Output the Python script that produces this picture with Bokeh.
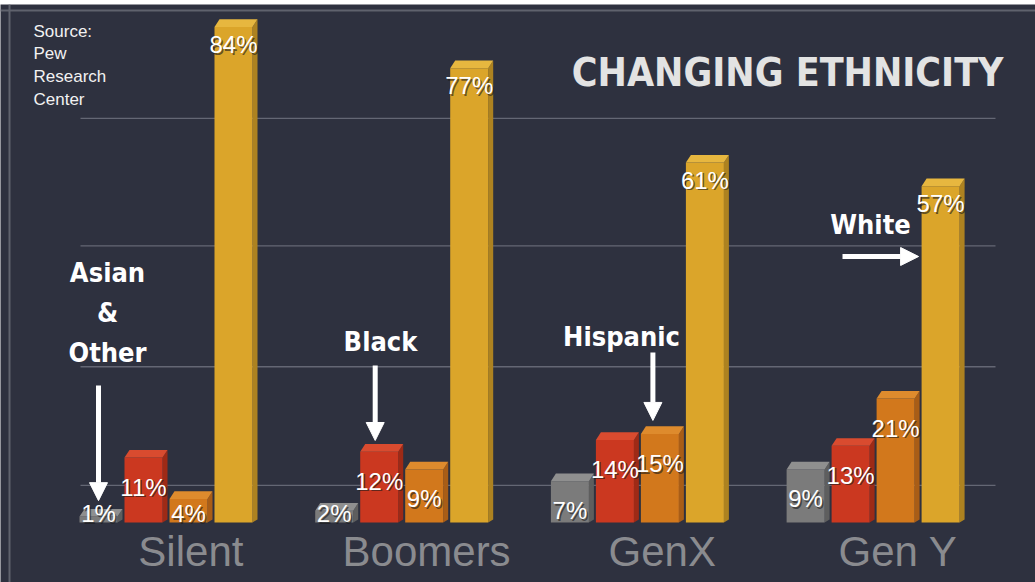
from bokeh.plotting import figure
from bokeh.models import Arrow, NormalHead, Span, Range1d
from bokeh.core.properties import value
from bokeh.embed import file_html
from bokeh.resources import INLINE

# ---------------- data ----------------
groups = ["Silent", "Boomers", "GenX", "Gen Y"]
series_names = ["Asian & Other", "Black", "Hispanic", "White"]
asian = [1, 2, 7, 9]
black = [11, 12, 14, 13]
hispanic = [4, 9, 15, 21]
white = [84, 77, 61, 57]
source_note = "Source:\nPew\nResearch\nCenter"
title_text = "CHANGING ETHNICITY"
grid_levels = [68.5, 46.9, 26.4, 6.3]

# ---------------- styling / geometry ----------------
BG = "#2e313f"
front_colors = ["#7b7b7b", "#cb3820", "#d2781c", "#dba52a"]
top_colors = ["#8f8f8f", "#d94b2f", "#de8b2d", "#e7b73f"]
side_colors = ["#5e5e5e", "#9e2a16", "#a95d16", "#ad8220"]
COND = value("DejaVu Sans Condensed")

W, H = 1035, 582
U = 235.7          # pixels per group
X0 = 168.0         # pixel of first group centre
S = 5.9            # pixels per percent
BASE = 522.0       # pixel of 0 %
TOPB = 4           # white band at top


def X(px):
    return (px - X0) / U


def Y(py):
    return (BASE - py) / S


STEP = 45 / U
FW = 38 / U
SW = 5 / U
TH = 1.3

p = figure(width=W, height=H, output_backend="svg", toolbar_location=None,
           x_axis_type=None, y_axis_type=None,
           x_range=Range1d(X(0), X(W)), y_range=Range1d(Y(H), Y(TOPB)),
           min_border=0, min_border_top=TOPB)
p.background_fill_color = BG
p.border_fill_color = "white"
p.outline_line_color = None
p.xgrid.visible = False
p.ygrid.visible = False

# faint grid lines in the back
p.segment(x0=[X(80)] * len(grid_levels), x1=[X(995)] * len(grid_levels),
          y0=grid_levels, y1=grid_levels, line_color="#646774", line_width=1.3)

# frame lines
p.add_layout(Span(location=X(9), dimension="height", line_color="#5f626d", line_width=2))
p.add_layout(Span(location=Y(10), dimension="width", line_color="#5f626d", line_width=2))

all_series = [asian, black, hispanic, white]
front_centers = {}
for k, vals in enumerate(all_series):
    slot = [i + (k - 1.5) * STEP for i in range(len(groups))]
    xl = [c - (FW + SW) / 2 for c in slot]
    xr = [a + FW for a in xl]
    front_centers[k] = [(a + b) / 2 for a, b in zip(xl, xr)]
    # side face
    p.patches(xs=[[b, b + SW, b + SW, b] for b in xr],
              ys=[[0, TH * 0.4, v + TH, v] for v in vals],
              fill_color=side_colors[k], line_color=None)
    # front face
    p.quad(left=xl, right=xr, bottom=[0] * len(vals), top=vals,
           fill_color=front_colors[k], line_color=None)
    # top face
    p.patches(xs=[[a, b, b + SW, a + SW] for a, b in zip(xl, xr)],
              ys=[[v, v, v + TH, v + TH] for v in vals],
              fill_color=top_colors[k], line_color=None)

# value labels
for k, vals in enumerate(all_series):
    if k == 3:
        ly = [v - 3 for v in vals]
    else:
        ly = [max(v - 5, 1.5) for v in vals]
    txt = [f"{v}%" for v in vals]
    p.text(x=front_centers[k], y=ly, text=txt, x_offset=1.5, y_offset=1.5,
           text_color="#1a1a1a", text_alpha=0.6, text_align="center",
           text_baseline="middle", text_font=value("Liberation Sans"),
           text_font_size="24px")
    p.text(x=front_centers[k], y=ly, text=txt,
           text_color="white", text_align="center",
           text_baseline="middle", text_font=value("Liberation Sans"),
           text_font_size="24px")

# category labels
p.text(x=[i + 0.095 for i in range(len(groups))], y=[Y(551)] * len(groups), text=groups,
       text_color="#8a8b8f", text_align="center", text_baseline="middle",
       text_font=value("Liberation Sans"), text_font_size="42px")

# title and source
p.text(x=[X(1003)], y=[Y(72)], text=[title_text], text_color="#e3e3e3",
       text_align="right", text_baseline="middle",
       text_font=COND, text_font_style="bold",
       text_font_size="39px")
p.text(x=[X(33)], y=[Y(21)], text=[source_note], text_color="#f2f2f2",
       text_align="left", text_baseline="top", text_line_height=1.2,
       text_font=value("Liberation Sans"), text_font_size="17px")

# callouts
ann_font = dict(text_color="white", text_align="center", text_baseline="middle",
                text_font=COND, text_font_style="bold",
                text_font_size="27px")
p.text(x=[X(107)] * 3, y=[Y(272), Y(312), Y(352)], text=["Asian", "&", "Other"], **ann_font)
p.text(x=[X(380)], y=[Y(341)], text=["Black"], **ann_font)
p.text(x=[X(621)], y=[Y(336)], text=["Hispanic"], **ann_font)
p.text(x=[X(870)], y=[Y(224)], text=["White"], **ann_font)


def head():
    return NormalHead(size=18, fill_color="white", line_color="white", line_width=1)


ax = front_centers[0][0]
p.add_layout(Arrow(end=head(), x_start=ax, y_start=Y(385), x_end=ax, y_end=asian[0] + 2.7,
                   line_color="white", line_width=5))
bx = front_centers[1][1] - 4 / U
p.add_layout(Arrow(end=head(), x_start=bx, y_start=Y(365), x_end=bx, y_end=black[1] + 1.9,
                   line_color="white", line_width=5))
hx = front_centers[2][2] - 7 / U
p.add_layout(Arrow(end=head(), x_start=hx, y_start=Y(352), x_end=hx, y_end=hispanic[2] + 2.3,
                   line_color="white", line_width=5))
wy = Y(256)
p.add_layout(Arrow(end=head(), x_start=X(842), y_start=wy, x_end=front_centers[3][3] - FW / 2 - 3 / U,
                   y_end=wy, line_color="white", line_width=5))

open("out.html", "w").write(file_html(p, INLINE))
